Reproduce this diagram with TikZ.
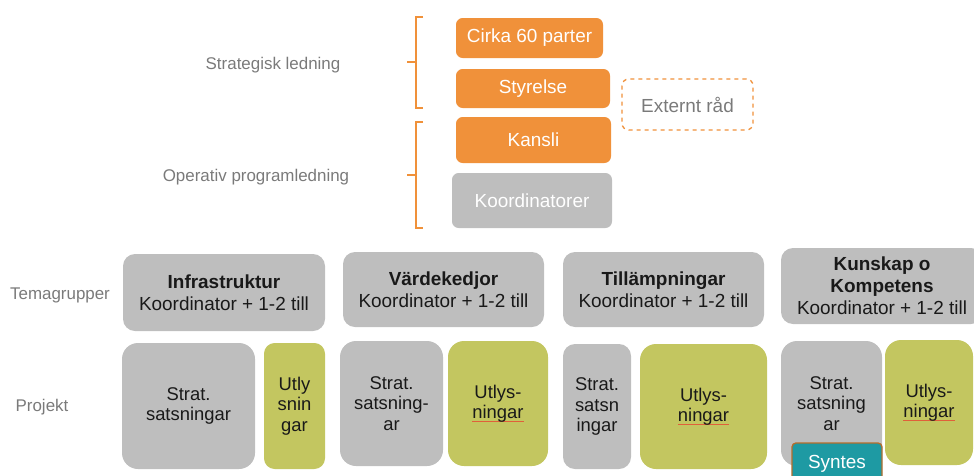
\documentclass[tikz,border=0pt]{standalone}
\usepackage{fontspec}
\setmainfont{Liberation Sans}
\usetikzlibrary{positioning}
\definecolor{orgorange}{HTML}{F0913A}
\definecolor{orggray}{HTML}{BEBEBE}
\definecolor{orggreen}{HTML}{C3C660}
\definecolor{orgteal}{HTML}{1E9AA3}
\definecolor{labelgray}{HTML}{7A7A7A}
\definecolor{spellred}{HTML}{E0603A}
\newlength\spellwd
\newcommand{\spellmark}[1]{\settowidth{\spellwd}{#1}\rlap{\textcolor{spellred}{\rule[-2.8pt]{\spellwd}{0.5pt}}}#1}
\tikzset{
  basebox/.style={rounded corners=5pt, align=center, inner sep=0pt,
    font=\fontsize{14.2}{16.5}\selectfont},
  leadbox/.style={basebox, fill=orgorange, text=white},
  coordbox/.style={basebox, fill=orggray, text=white},
  externbox/.style={basebox, draw=orgorange, dashed, line width=1pt, text=labelgray},
  themebox/.style={basebox, rounded corners=9pt, fill=orggray, text=black!90},
  stratbox/.style={basebox, rounded corners=12pt, fill=orggray, text=black!90,
    font=\fontsize{13.8}{15.2}\selectfont},
  callbox/.style={stratbox, fill=orggreen},
  syntbox/.style={basebox, rounded corners=3pt, fill=orgteal, draw=orgorange!75!black,
    line width=1pt, text=white},
  rowlabel/.style={text=labelgray, font=\fontsize{12.7}{15}\selectfont},
  brace/.style={draw=orgorange, line width=0.9pt}
}
\begin{document}
\begin{tikzpicture}[x=0.75pt, y=-0.75pt]
    \clip (0,0) rectangle (974,475);
    % ledning
    \node[leadbox, minimum width=110.25pt, minimum height=30pt] (parter) at (529.5,38) {Cirka 60 parter};
    \node[leadbox, minimum width=115.5pt, minimum height=29.25pt] (styrelse) at (533,88.5) {Styrelse};
    \node[leadbox, minimum width=116.25pt, minimum height=34.5pt] (kansli) at (533.5,140) {Kansli};
    \node[coordbox, minimum width=120pt, minimum height=41.25pt] (koord) at (532,200.5) {Koordinatorer};
    \node[externbox, minimum width=98.25pt, minimum height=38.25pt] (extern) at (687.5,104.5) {Externt råd};
    \node[rowlabel] (strategisk) at (273,65) {Strategisk ledning};
    \node[rowlabel] (operativ) at (256,177) {Operativ programledning};
    \draw[brace] (423,17) -- (416,17) -- (416,108) -- (423,108) (416,62) -- (407,62);
    \draw[brace] (423,122) -- (416,122) -- (416,228) -- (423,228) (416,175) -- (407,175);
    % temagrupper
    \node[rowlabel] (tema) at (60,295) {Temagrupper};
    \node[themebox, minimum width=151.5pt, minimum height=57.75pt] (infra) at (224,292.5) {\textbf{Infrastruktur}\\Koordinator + 1-2 till};
    \node[themebox, minimum width=150.75pt, minimum height=56.25pt] (varde) at (443.5,289.5) {\textbf{Värdekedjor}\\Koordinator + 1-2 till};
    \node[themebox, minimum width=150.75pt, minimum height=56.25pt] (tillamp) at (663.5,289.5) {\textbf{Tillämpningar}\\Koordinator + 1-2 till};
    \node[themebox, minimum width=151.5pt, minimum height=57pt] (kunskap) at (882,286) {\textbf{Kunskap o}\\\textbf{Kompetens}\\Koordinator + 1-2 till};
    % projekt
    \node[rowlabel] (projekt) at (42,407) {Projekt};
    \node[stratbox, minimum width=99.75pt, minimum height=94.5pt] (strat1) at (188.5,406) {Strat.\\satsningar};
    \node[callbox, rounded corners=8pt, minimum width=45.75pt, minimum height=94.5pt] (utlys1) at (294.5,406) {Utly\\snin\\gar};
    \node[stratbox, minimum width=77.25pt, minimum height=93.75pt] (strat2) at (391.5,403.5) {Strat.\\satsning-\\ar};
    \node[callbox, minimum width=75pt, minimum height=93.75pt] (utlys2) at (498,403.5) {Utlys-\\\spellmark{ningar}};
    \node[stratbox, rounded corners=9pt, minimum width=51pt, minimum height=93.75pt] (strat3) at (597,406.5) {Strat.\\satsn\\ingar};
    \node[callbox, minimum width=95.25pt, minimum height=93.75pt] (utlys3) at (703.5,406.5) {Utlys-\\\spellmark{ningar}};
    \node[stratbox, minimum width=75.75pt, minimum height=93.75pt] (strat4) at (831.5,403.5) {Strat.\\satsning\\ar};
    \node[callbox, minimum width=66pt, minimum height=93.75pt] (utlys4) at (929,402.5) {Utlys-\\\spellmark{ningar}};
    \node[syntbox, minimum width=67.5pt, minimum height=31.5pt] (syntes) at (837,464) {Syntes};
  \end{tikzpicture}
\end{document}
